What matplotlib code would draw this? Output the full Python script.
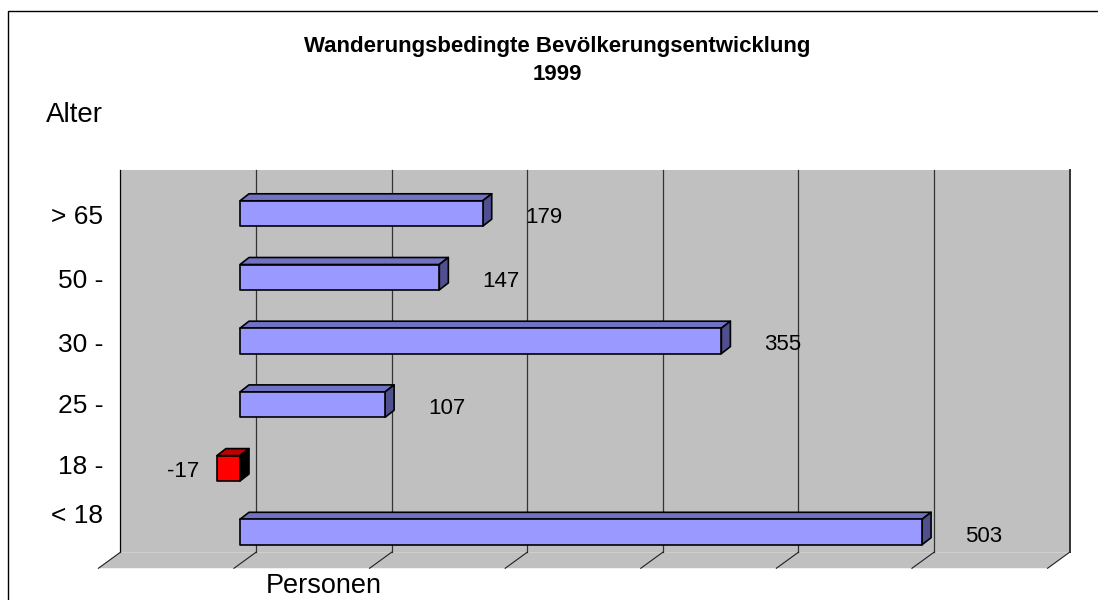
import matplotlib
matplotlib.use('Agg')
import matplotlib.pyplot as plt
from matplotlib.patches import Polygon, Rectangle

# data
categories = ['> 65', '50 -', '30 -', '25 -', '18 -', '< 18']
values = [179, 147, 355, 107, -17, 503]
x_ticks = [-100, 0, 100, 200, 300, 400, 500, 600]
title_lines = ['Wanderungsbedingte Bevölkerungsentwicklung', '1999']

# layout, in pixels of the 1098x600 picture
W, H = 1098, 600
X0_PX, SX = 240, 1.356      # value 0 on the front plane of the bars, px per unit
Y0_PX, SY = 213.5, 63.7     # first category centre, px between categories
BACK = (16, -11.6)          # back wall offset from the bars' front plane
FLOOR = (-6, 4.4)           # front edge of the floor
DEPTH = (9, -7)             # depth of a bar
BAR_H = 25.4
PT = 72 / 100               # points per pixel

ux, uy = 1 / SX, 1 / SY
plt.rcParams['font.family'] = ['Liberation Sans', 'DejaVu Sans']

fig = plt.figure(figsize=(W / 100, H / 100), dpi=100)
ax = fig.add_axes([0, 0, 1, 1])
ax.set_xlim(-X0_PX * ux, (W - X0_PX) * ux)
ax.set_ylim((H - Y0_PX) * uy, -Y0_PX * uy)
ax.axis('off')

GRAY = '#c0c0c0'
bx, by = BACK[0] * ux, BACK[1] * uy
fx, fy = FLOOR[0] * ux, FLOOR[1] * uy
lo, hi = x_ticks[0], x_ticks[-1]
top_c, bot_c = -0.5, len(categories) - 0.5

# back wall
ax.add_patch(Rectangle((lo + bx, top_c + by), hi - lo, bot_c - top_c,
                       facecolor=GRAY, edgecolor='none', zorder=1))
# floor
ax.add_patch(Polygon([(lo + bx, bot_c + by), (hi + bx, bot_c + by),
                      (hi + fx, bot_c + fy), (lo + fx, bot_c + fy)],
                     facecolor=GRAY, edgecolor='none', zorder=1))
for t in x_ticks:
    lw = 1.4 if t == hi else 0.9
    col = '#000000' if t == lo else '#333333'
    ax.plot([t + bx, t + bx], [top_c + by, bot_c + by], color=col, lw=lw, zorder=2)
    ax.plot([t + bx, t + fx], [bot_c + by, bot_c + fy], color='#202020', lw=0.8, zorder=2)

# bars
dx, dy = DEPTH[0] * ux, DEPTH[1] * uy
h = BAR_H / 2 * uy
for i, v in enumerate(values):
    if v >= 0:
        face, top, side = '#9999ff', '#7272c4', '#505090'
    else:
        face, top, side = '#ff0000', '#c00000', '#000000'
    x0, x1 = min(0, v), max(0, v)
    kw = dict(edgecolor='black', lw=1.2, joinstyle='round', zorder=4)
    ax.add_patch(Polygon([(x0, i - h), (x1, i - h), (x1 + dx, i - h + dy),
                          (x0 + dx, i - h + dy)], facecolor=top, **kw))
    ax.add_patch(Polygon([(x1, i - h), (x1 + dx, i - h + dy),
                          (x1 + dx, i + h + dy), (x1, i + h)], facecolor=side, **kw))
    ax.add_patch(Rectangle((x0, i - h), x1 - x0, 2 * h, facecolor=face, **kw))

    if v >= 0:
        ax.annotate(str(v), (v, i), xytext=(43 * PT, -9.5 * PT), textcoords='offset points',
                    ha='left', va='baseline', fontsize=16, zorder=5)
    else:
        ax.annotate(str(v), (v, i), xytext=(-18 * PT, -9 * PT), textcoords='offset points',
                    ha='right', va='baseline', fontsize=16, zorder=5)

# category labels (the last one sits higher in the original)
label_shift = [-10, -11, -11, -8, -6, 9]
lab_x = (103 - X0_PX) * ux
for i, (c, s) in enumerate(zip(categories, label_shift)):
    ax.annotate(c, (lab_x, i), xytext=(0, s * PT), textcoords='offset points',
                ha='right', va='baseline', fontsize=19)

fig.text(103 / W, 1 - 122 / H, 'Alter', ha='right', va='baseline', fontsize=20)
fig.text(324 / W, 1 - 593 / H, 'Personen', ha='center', va='baseline', fontsize=19.5)
fig.text(557 / W, 1 - 52 / H, title_lines[0], ha='center', va='baseline',
         fontsize=16, fontweight='bold')
fig.text(557 / W, 1 - 80 / H, title_lines[1], ha='center', va='baseline',
         fontsize=16, fontweight='bold')

# chart frame (runs off the right and bottom edge)
fig.patches.append(Rectangle((8 / W, -0.1), 2, 1.1 - 11 / H, transform=fig.transFigure,
                             fill=False, edgecolor='black', lw=1.0))

fig.savefig('out.png', dpi=100, facecolor='white')
